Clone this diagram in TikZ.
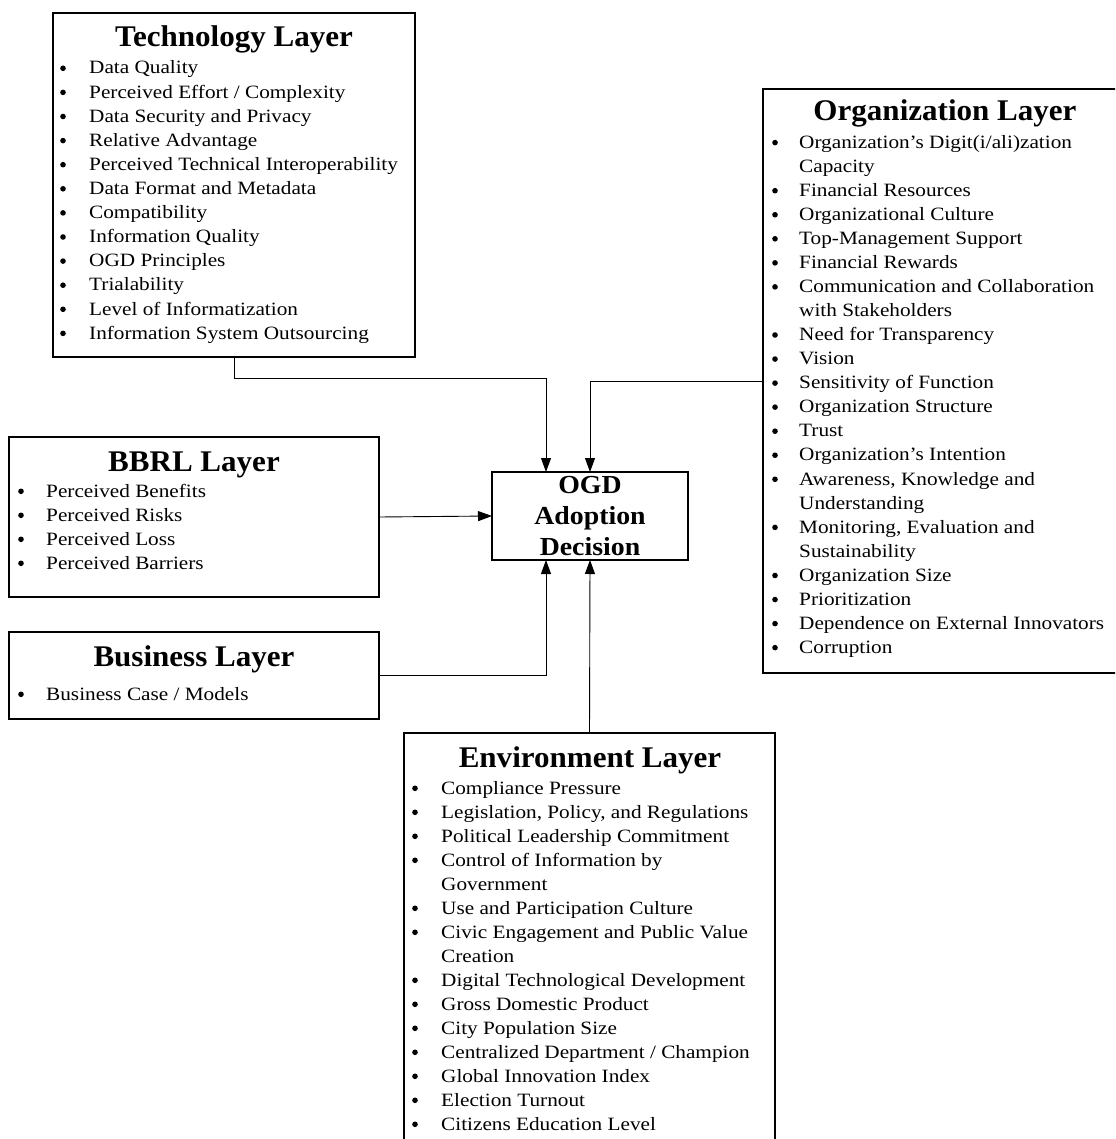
\documentclass[tikz,border=0pt]{standalone}
\usepackage{fontspec}
\setmainfont{Liberation Serif}
\newfontfamily\itemfont[Ligatures=TeX,FakeStretch=1.13]{Liberation Serif}
\newfontfamily\titlefont[Ligatures=TeX,FakeStretch=1.035]{Liberation Serif}
\newfontfamily\ogdfont[Ligatures=TeX,FakeStretch=1.07]{Liberation Serif}
\usetikzlibrary{arrows.meta,calc}
\tikzset{
  layerbox/.style={draw, line width=1.8pt, rectangle, inner sep=0pt, outer sep=0pt, anchor=north west},
  titletxt/.style={font=\titlefont\fontsize{30}{34}\selectfont\bfseries, anchor=base, inner sep=0pt},
  itemtxt/.style={font=\itemfont\fontsize{18.8}{24}\selectfont, anchor=base west, inner sep=0pt},
  bulc/.style={circle, fill=black, inner sep=0pt, minimum size=5.6pt},
  conn/.style={line width=0.9pt, -{Triangle[length=14pt,width=10pt]}},
}
\begin{document}
\begin{tikzpicture}[x=1pt,y=-1pt]
\clip (0,0) rectangle (1115,1139);
\useasboundingbox (0,0) rectangle (1115,1139);

% boxes
\node[layerbox, minimum width=362, minimum height=344] (tech) at (53,13) {};
\node[layerbox, minimum width=364, minimum height=584] (org) at (763,89) {};
\node[layerbox, minimum width=370, minimum height=160] (bbrl) at (9,437) {};
\node[layerbox, minimum width=370, minimum height=87] (bus) at (9,632) {};
\node[layerbox, minimum width=371, minimum height=420] (env) at (404,733) {};
\node[layerbox, minimum width=196, minimum height=88, align=center,
      font=\ogdfont\fontsize{26}{31}\selectfont\bfseries] (ogd) at (492,472) {OGD\\Adoption\\Decision};

% titles
\node[titletxt] (techT) at (234,46.7) {Technology Layer};
\node[titletxt] (orgT) at (945,121) {Organization Layer};
\node[titletxt] (bbrlT) at (194,471) {BBRL Layer};
\node[titletxt] (busT) at (194,666) {Business Layer};
\node[titletxt] (envT) at (590,767) {Environment Layer};

% technology items
\foreach \k/\t [count=\i] in {1/{Data Quality},1/{Perceived Effort / Complexity},1/{Data Security and Privacy},
  1/{Relative Advantage},1/{Perceived Technical Interoperability},1/{Data Format and Metadata},
  1/{Compatibility},1/{Information Quality},1/{OGD Principles},1/{Trialability},
  1/{Level of Informatization},1/{Information System Outsourcing}}{
  \node[itemtxt] (tech\i) at (89,{74+(\i-1)*24.1}) {\t};
  \ifnum\k=1 \node[bulc] (techb\i) at (63,{68.3+(\i-1)*24.1}) {}; \fi
}

% organization items
\foreach \k/\t [count=\i] in {1/{Organization's Digit(i/ali)zation},0/{Capacity},1/{Financial Resources},
  1/{Organizational Culture},1/{Top-Management Support},1/{Financial Rewards},
  1/{Communication and Collaboration},0/{with Stakeholders},1/{Need for Transparency},
  1/{Vision},1/{Sensitivity of Function},1/{Organization Structure},1/{Trust},
  1/{Organization's Intention},1/{Awareness, Knowledge and},0/{Understanding},
  1/{Monitoring, Evaluation and},0/{Sustainability},1/{Organization Size},
  1/{Prioritization},1/{Dependence on External Innovators},1/{Corruption}}{
  \node[itemtxt] (org\i) at (799,{148.3+(\i-1)*24.05}) {\t};
  \ifnum\k=1 \node[bulc] (orgb\i) at (775,{142.6+(\i-1)*24.05}) {}; \fi
}

% BBRL items
\foreach \t [count=\i] in {{Perceived Benefits},{Perceived Risks},{Perceived Loss},{Perceived Barriers}}{
  \node[itemtxt] (bbrl\i) at (46,{497+(\i-1)*24}) {\t};
  \node[bulc] (bbrlb\i) at (21,{491.3+(\i-1)*24}) {};
}

% Business items
\node[itemtxt] (bus1) at (46,700) {Business Case / Models};
\node[bulc] (busb1) at (21,694.3) {};

% environment items
\foreach \k/\t [count=\i] in {1/{Compliance Pressure},1/{Legislation, Policy, and Regulations},
  1/{Political Leadership Commitment},1/{Control of Information by},0/{Government},
  1/{Use and Participation Culture},1/{Civic Engagement and Public Value},0/{Creation},
  1/{Digital Technological Development},1/{Gross Domestic Product},1/{City Population Size},
  1/{Centralized Department / Champion},1/{Global Innovation Index},1/{Election Turnout},
  1/{Citizens Education Level}}{
  \node[itemtxt] (env\i) at (441,{794+(\i-1)*24}) {\t};
  \ifnum\k=1 \node[bulc] (envb\i) at (415,{788.3+(\i-1)*24}) {}; \fi
}

% connectors
\coordinate (tin) at ($(ogd.north)+(-44,0)$);
\coordinate (bin) at ($(ogd.south)+(-44,0)$);
\draw[conn] (tech.south) -- ++(0,21) -| (tin);
\draw[conn] (org.west) -| (ogd.north);
\draw[conn] (bbrl.east) -- (ogd.west);
\draw[conn] (bus.east) -| (bin);
\draw[conn] (env.north) -- (ogd.south);
\end{tikzpicture}
\end{document}
